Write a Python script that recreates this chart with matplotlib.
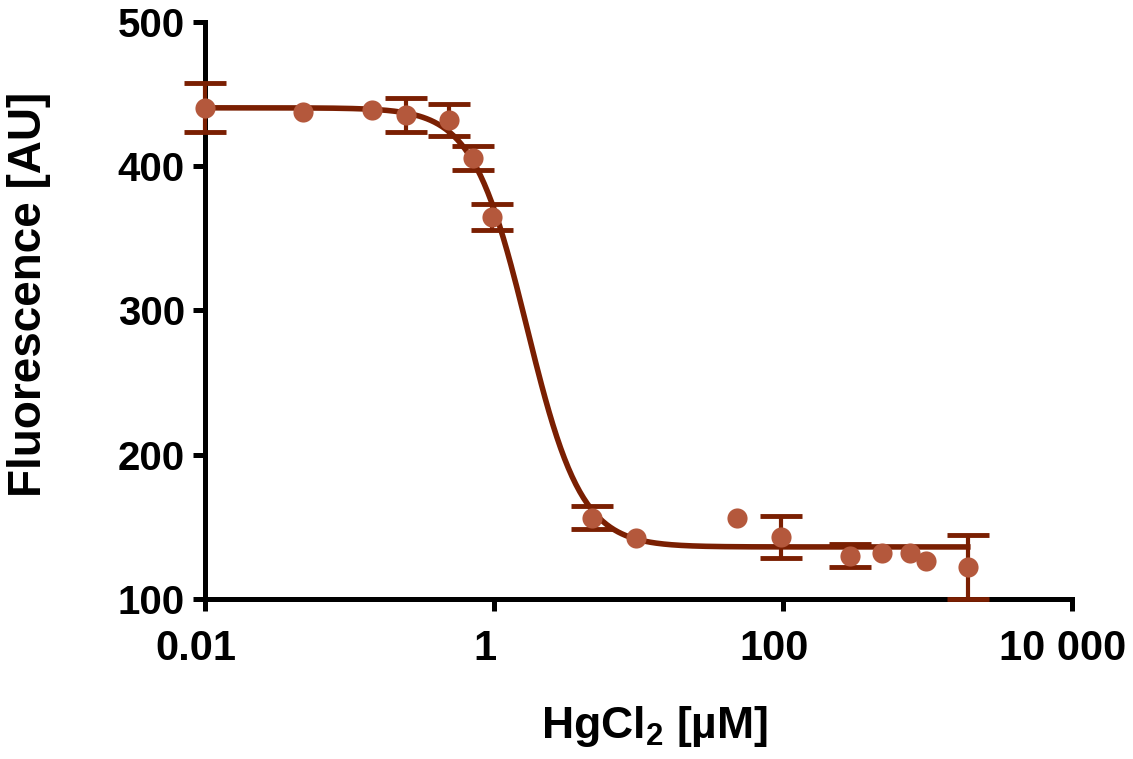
import numpy as np
import matplotlib
matplotlib.use("Agg")
import matplotlib.pyplot as plt
from matplotlib.ticker import FixedLocator, NullLocator
from matplotlib.transforms import ScaledTranslation

# HgCl2 concentrations [uM] and mean fluorescence [AU]
conc = [0.01, 0.048, 0.143, 0.245, 0.49, 0.72, 0.97, 4.8, 9.6, 48, 97, 291, 484, 757, 977, 1905]
fluo = [440.4, 437.6, 439.0, 435.5, 432.0, 405.7, 364.8, 156.2, 142.3, 156.2, 143.0, 129.8, 131.9, 131.9, 126.3, 122.2]
err = [17, 0, 0, 12, 11, 8, 9, 8, 0, 0, 14.5, 8, 0, 0, 0, 22]

# fitted dose-response (4-parameter logistic)
top, bottom, ec50, hill = 440.5, 136.0, 1.69, 2.3

xticks = [0.01, 1, 100, 10000]
xticklabels = ["0.01", "1", "100", "10 000"]
yticks = [100, 200, 300, 400, 500]

line_col = "#7a1f02"
mark_col = "#b4583c"
bold = dict(family="Liberation Sans", weight="bold")

fig = plt.figure(figsize=(11.33, 7.59), dpi=100)
ax = fig.add_axes([0.181, 0.211, 0.765, 0.760])

xs = np.logspace(np.log10(conc[0]), np.log10(conc[-1]), 400)
ax.plot(xs, bottom + (top - bottom) / (1 + (xs / ec50) ** hill), color=line_col, lw=4,
        zorder=4, clip_on=False)
sel = [i for i, e in enumerate(err) if e > 0]
eb = ax.errorbar([conc[i] for i in sel], [fluo[i] for i in sel], yerr=[err[i] for i in sel],
                 fmt="none", ecolor=line_col, elinewidth=3, capsize=15, capthick=3.5, zorder=3)
for art in eb.lines[1] + eb.lines[2]:
    art.set_clip_on(False)
ax.plot(conc, fluo, "o", color=mark_col, ms=14.5, mec="none", zorder=5, clip_on=False)

ax.set_xscale("log")
ax.set_xlim(0.01, 10000)
ax.set_ylim(100, 500)

for s in ["top", "right"]:
    ax.spines[s].set_visible(False)
for s in ["left", "bottom"]:
    ax.spines[s].set_linewidth(3.6)
ax.tick_params(width=3.6, length=8.5)
ax.tick_params(axis="y", pad=6)
ax.tick_params(axis="x", pad=13)

ax.xaxis.set_major_locator(FixedLocator(xticks))
ax.xaxis.set_minor_locator(NullLocator())
ax.set_xticklabels(xticklabels, fontsize=30, **bold)
ax.set_yticks(yticks)
ax.set_yticklabels([str(v) for v in yticks], fontsize=29, **bold)
shift = ScaledTranslation(-9 / 100, 0, fig.dpi_scale_trans)
for lab in ax.get_xticklabels():
    lab.set_transform(lab.get_transform() + shift)

ax.set_xlabel(r"HgCl$_\mathregular{2}$ [µM]", fontsize=32, **bold)
ax.xaxis.set_label_coords(0.519, -0.182)
ax.set_ylabel("Fluorescence [AU]", fontsize=33, **bold)
ax.yaxis.set_label_coords(-0.178, 0.527)

fig.savefig("out.png", dpi=100)
